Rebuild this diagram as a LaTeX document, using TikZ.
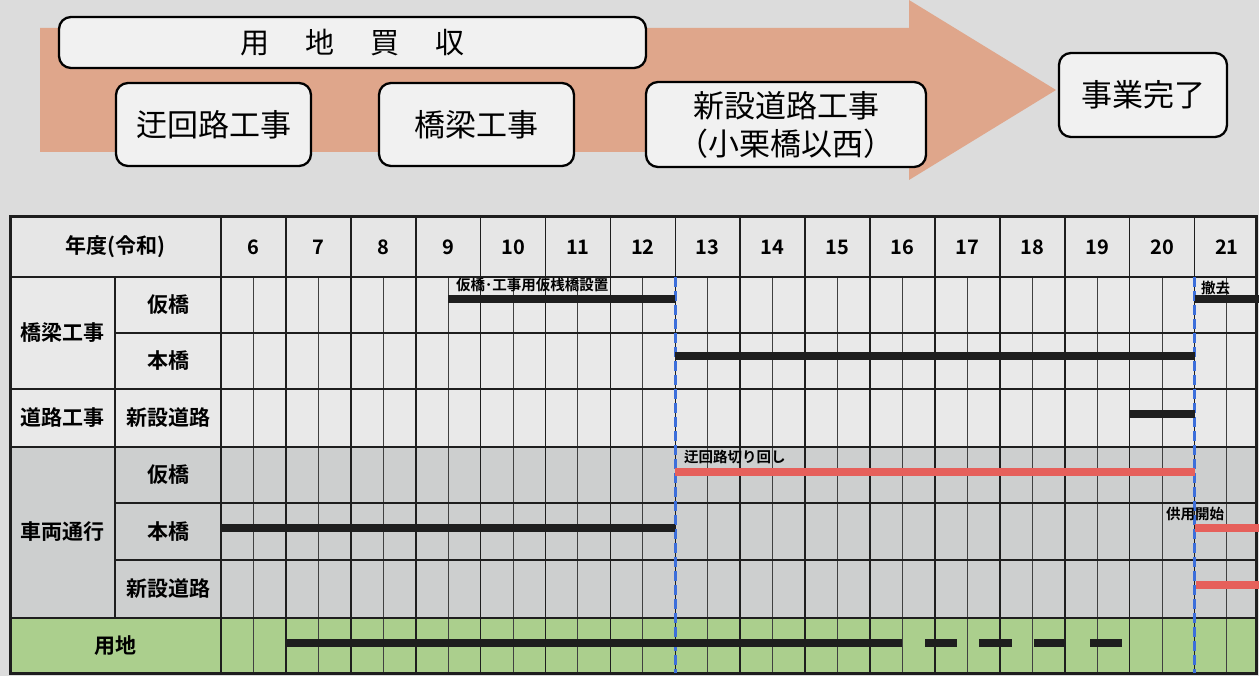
\documentclass[tikz,border=0pt]{standalone}
\usepackage{fontspec}
\setmainfont{Noto Sans CJK JP}[BoldFont={Noto Sans CJK JP Bold}]
\definecolor{bg}{HTML}{DCDCDC}
\definecolor{arrowc}{HTML}{DFA68B}
\definecolor{boxfill}{HTML}{F1F1F1}
\definecolor{hdr}{HTML}{E6E6E6}
\definecolor{lightc}{HTML}{E9E9E9}
\definecolor{vgray}{HTML}{CDCFCF}
\definecolor{greenc}{HTML}{ABCF8D}
\definecolor{redbar}{HTML}{E6605B}
\definecolor{bluedash}{HTML}{3C6FDB}
\definecolor{gridc}{HTML}{1E1E1E}
\begin{document}
\begin{tikzpicture}[x=1pt,y=-1pt,
  box/.style={draw=black, line width=2.3pt, rounded corners=12pt, fill=boxfill, inner sep=0pt, align=center},
  bigtxt/.style={font=\fontsize{31}{38}\selectfont},
  lbl/.style={font=\bfseries\fontsize{21}{24}\selectfont, inner sep=0pt},
  yr/.style={font=\bfseries\fontsize{20}{24}\selectfont, inner sep=0pt},
  small/.style={font=\bfseries\fontsize{14.5}{16}\selectfont, inner sep=0pt, anchor=west},
  bar/.style={line width=7.5pt, gridc},
  rbar/.style={line width=7.5pt, redbar},
  major/.style={line width=1.6pt, gridc},
  minor/.style={line width=1pt, gridc!85},
  hline/.style={line width=1.3pt, gridc},
  bdash/.style={line width=3pt, bluedash, dash pattern=on 10pt off 4pt}
]
\useasboundingbox (0,0) rectangle (1259,676);
\fill[bg] (0,0) rectangle (1259,676);

% big arrow
\fill[arrowc] (40,28) -- (909,28) -- (909,0) -- (1056,90) -- (909,180) -- (909,152) -- (40,152) -- cycle;

% top boxes
\node[box, minimum width=587pt, minimum height=51pt, font=\fontsize{29}{34}\selectfont] (buy) at (352.5,42.5) {用\hspace{36pt}地\hspace{36pt}買\hspace{36pt}収};
\node[box, bigtxt, minimum width=195pt, minimum height=83pt] (ukai) at (213.5,124.5) {迂回路工事};
\node[box, bigtxt, minimum width=195pt, minimum height=83pt] (kyoryo) at (476.5,124.5) {橋梁工事};
\node[box, bigtxt, minimum width=280pt, minimum height=85pt] (shinsetsu) at (786,124.5) {新設道路工事\\（小栗橋以西）};
\node[box, bigtxt, minimum width=168pt, minimum height=84pt] (kanryo) at (1143,95) {事業完了};

% table fills
\fill[hdr] (10,217) rectangle (1256,277);
\fill[lightc] (10,277) rectangle (1256,447);
\fill[vgray] (10,447) rectangle (1256,618);
\fill[greenc] (10,618) rectangle (1256,673);

% grid
\foreach \i in {0,...,15}{
  \draw[major] (221+64.9*\i,217) -- (221+64.9*\i,673);
  \draw[minor] (221+64.9*\i+32.45,277) -- (221+64.9*\i+32.45,673);
}
\draw[hline] (10,277) -- (1256,277);
\draw[hline] (115,333) -- (1256,333);
\draw[hline] (10,389) -- (1256,389);
\draw[hline] (10,447) -- (1256,447);
\draw[hline] (115,503) -- (1256,503);
\draw[hline] (115,560) -- (1256,560);
\draw[hline] (10,618) -- (1256,618);
\draw[major] (115,277) -- (115,618);
\draw[major] (221,217) -- (221,673);
\draw[line width=3pt, gridc] (10,217) rectangle (1256,673);

% headers
\node[lbl] (nendo) at (115,247) {年度(令和)};
\foreach \y [count=\i from 0] in {6,...,21}{
  \node[yr] (y\y) at (221+64.9*\i+32.45,247) {\y};
}
\node[lbl] (g1) at (62,333) {橋梁工事};
\node[lbl] (g1a) at (168,305) {仮橋};
\node[lbl] (g1b) at (168,361) {本橋};
\node[lbl] (g2) at (62,418) {道路工事};
\node[lbl] (g2a) at (168,418) {新設道路};
\node[lbl] (g3) at (62,532) {車両通行};
\node[lbl] (g3a) at (168,475) {仮橋};
\node[lbl] (g3b) at (168,532) {本橋};
\node[lbl] (g3c) at (168,589) {新設道路};
\node[lbl] (g4) at (115,646) {用地};

% blue dashed milestones
\draw[bdash] (675.3,277) -- (675.3,673);
\draw[bdash] (1194.5,277) -- (1194.5,673);

% bars
\draw[bar] (448,299) -- (675.3,299);
\node[small] (t1) at (456,285) {仮橋･工事用仮桟橋設置};
\draw[bar] (1194.5,299) -- (1259,299);
\node[small] (t2) at (1201,288) {撤去};
\draw[bar] (675.3,356) -- (1194.5,356);
\draw[bar] (1129.6,414) -- (1194.5,414);
\draw[rbar] (675.3,472) -- (1194.5,472);
\node[small] (t3) at (684,457) {迂回路切り回し};
\draw[bar] (221,528) -- (675.3,528);
\draw[rbar] (1194.5,528) -- (1259,528);
\node[small] (t4) at (1166,514) {供用開始};
\draw[rbar] (1196,585) -- (1259,585);
\draw[bar] (286,643) -- (902,643);
\draw[bar] (925,643) -- (957,643);
\draw[bar] (979,643) -- (1012,643);
\draw[bar] (1034,643) -- (1066,643);
\draw[bar] (1090,643) -- (1122,643);
\end{tikzpicture}
\end{document}
